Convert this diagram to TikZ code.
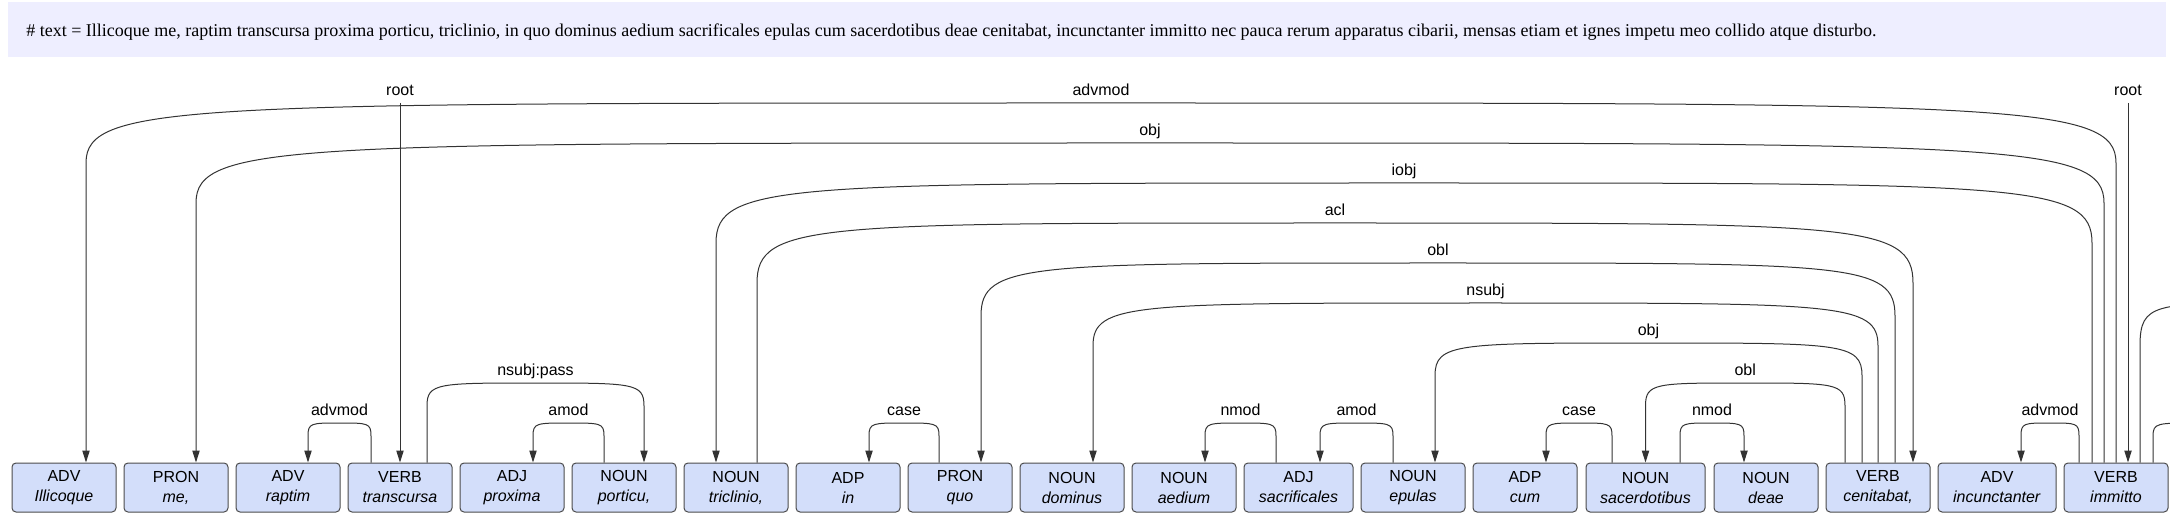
\documentclass[tikz,border=0pt]{standalone}
\usepackage{fontspec}
\setmainfont{Liberation Serif}
\setsansfont{Liberation Sans}
\usetikzlibrary{calc,arrows.meta}
\definecolor{hdrfill}{HTML}{EEEEFF}
\definecolor{tokfill}{HTML}{D3DEFA}

\begin{document}
\begin{tikzpicture}[x=.75pt,y=-.75pt,
  tok/.style={draw=black!70,fill=tokfill,rounded corners=3pt,line width=.75pt,
    minimum width=78pt,minimum height=36.75pt,inner sep=0pt,align=center,
    font=\sffamily\fontsize{12}{15}\selectfont},
  dep/.style={draw=black!80,line width=.75pt,-{Triangle[length=9pt,width=5.5pt]}},
  deplabel/.style={anchor=base,yshift=5.5pt,inner sep=0pt,font=\sffamily\fontsize{12}{14}\selectfont}]
\def\deparc#1#2#3#4#5#6{%
  \draw[dep] let \p1=($(#1)+(#2,0)$), \p2=($(#3)+(#4,0)$), \p3=(0,#5),
    \n1={min(0.25*(\y3-\y1)+2.25pt,45pt)}, \n2={0.05*(\x2-\x1)} in
    (\p1) -- (\x1,\y3-\n1) .. controls (\x1,\y3) and ({\x1+\n2},\y3) .. ({(\x1+\x2)/2},\y3)
    node[deplabel]{#6} .. controls ({\x2-\n2},\y3) and (\x2,\y3) .. (\x2,\y3-\n1) -- (\p2);}

\useasboundingbox (0,0) rectangle (2170,520);
\fill[hdrfill] (8,2) rectangle (2166,57);
\node[anchor=base west,inner sep=0pt,font=\fontsize{13.5}{16}\selectfont] (sent) at (26,37)
  {\# text = Illicoque me, raptim transcursa proxima porticu, triclinio, in quo dominus aedium sacrificales epulas cum sacerdotibus deae cenitabat, incunctanter immitto nec pauca rerum apparatus cibarii, mensas etiam et ignes impetu meo collido atque disturbo.};

\node[tok] (illicoque) at (64,487.5) {ADV\\\textit{Illicoque}};
\node[tok] (me) at (176,487.5) {PRON\\\textit{me,}};
\node[tok] (raptim) at (288,487.5) {ADV\\\textit{raptim}};
\node[tok] (transcursa) at (400,487.5) {VERB\\\textit{transcursa}};
\node[tok] (proxima) at (512,487.5) {ADJ\\\textit{proxima}};
\node[tok] (porticu) at (624,487.5) {NOUN\\\textit{porticu,}};
\node[tok] (triclinio) at (736,487.5) {NOUN\\\textit{triclinio,}};
\node[tok] (inw) at (848,487.5) {ADP\\\textit{in}};
\node[tok] (quo) at (960,487.5) {PRON\\\textit{quo}};
\node[tok] (dominus) at (1072,487.5) {NOUN\\\textit{dominus}};
\node[tok] (aedium) at (1184,487.5) {NOUN\\\textit{aedium}};
\node[tok,minimum width=81.75pt] (sacrificales) at (1298.5,487.5) {ADJ\\\textit{sacrificales}};
\node[tok] (epulas) at (1413,487.5) {NOUN\\\textit{epulas}};
\node[tok] (cum) at (1525,487.5) {ADP\\\textit{cum}};
\node[tok,minimum width=89.25pt] (sacerdotibus) at (1645.5,487.5) {NOUN\\\textit{sacerdotibus}};
\node[tok] (deae) at (1766,487.5) {NOUN\\\textit{deae}};
\node[tok] (cenitabat) at (1878,487.5) {VERB\\\textit{cenitabat,}};
\node[tok,minimum width=88.5pt] (incunctanter) at (1997,487.5) {ADV\\\textit{incunctanter}};
\node[tok] (immitto) at (2116,487.5) {VERB\\\textit{immitto}};
\coordinate (nexta) at (2420,463);
\coordinate (nextb) at (2240,463);

\coordinate (roota) at (400,103);
\coordinate (rootb) at (2128,103);
\node[deplabel] (rootalbl) at (roota) {root};
\node[deplabel] (rootblbl) at (rootb) {root};
\draw[dep] (roota) -- (transcursa.north);
\draw[dep] (rootb) -- (rootb |- immitto.north);

\deparc{immitto.north}{0}{illicoque.north}{22}{103}{advmod}
\deparc{immitto.north}{-12}{me.north}{20}{143}{obj}
\deparc{immitto.north}{-24}{triclinio.north}{-20}{183}{iobj}
\deparc{triclinio.north}{21}{cenitabat.north}{35}{223}{acl}
\deparc{cenitabat.north}{17}{quo.north}{21}{263}{obl}
\deparc{cenitabat.north}{0}{dominus.north}{21}{303}{nsubj}
\deparc{cenitabat.north}{-16}{epulas.north}{22}{343}{obj}
\deparc{cenitabat.north}{-33}{sacerdotibus.north}{0}{383}{obl}
\deparc{transcursa.north}{27}{porticu.north}{20}{383}{nsubj:pass}
\deparc{transcursa.north}{-29}{raptim.north}{20}{423}{advmod}
\deparc{porticu.north}{-20}{proxima.north}{21}{423}{amod}
\deparc{quo.north}{-21}{inw.north}{21}{423}{case}
\deparc{sacrificales.north}{-22.5}{aedium.north}{21}{423}{nmod}
\deparc{epulas.north}{-20}{sacrificales.north}{21.5}{423}{amod}
\deparc{sacerdotibus.north}{-33.5}{cum.north}{21}{423}{case}
\deparc{sacerdotibus.north}{34.5}{deae.north}{-22}{423}{nmod}
\deparc{immitto.north}{-37}{incunctanter.north}{24}{423}{advmod}
\deparc{immitto.north}{24}{nexta}{0}{303}{}
\deparc{immitto.north}{37}{nextb}{0}{423}{}
\end{tikzpicture}
\end{document}
